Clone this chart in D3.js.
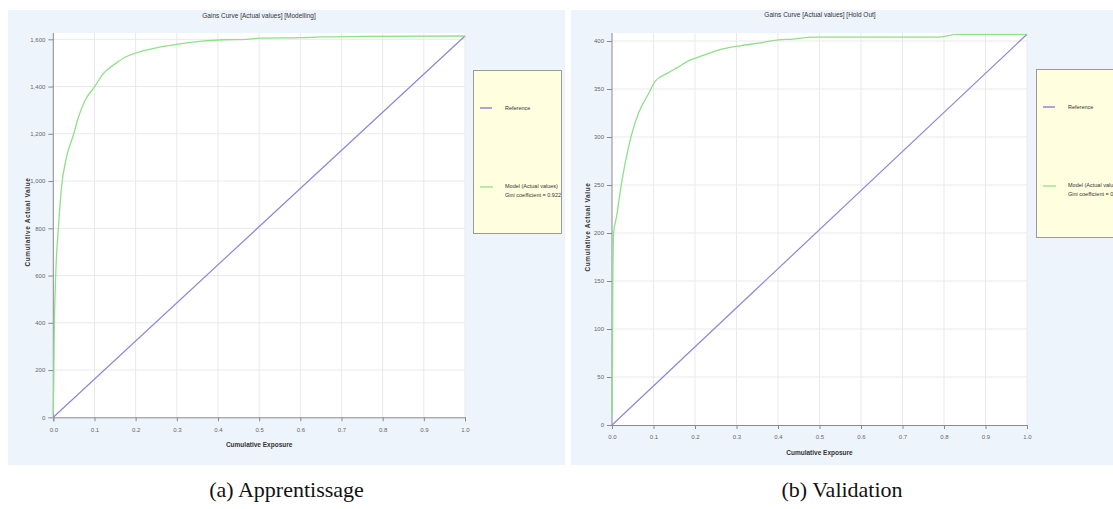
<!DOCTYPE html>
<html>
<head>
<meta charset="utf-8">
<script src="https://cdn.jsdelivr.net/npm/d3@7/dist/d3.min.js"></script>
<style>
  html, body { margin: 0; padding: 0; background: #ffffff; }
  svg { display: block; }
</style>
</head>
<body>
<svg id="chart" width="1113" height="509"></svg>
<script>
// Shared x ticks (cumulative exposure share)
const exposureTicks = [0, 0.1, 0.2, 0.3, 0.4, 0.5, 0.6, 0.7, 0.8, 0.9, 1.0];
const exposureTickLabels = ["0.0", "0.1", "0.2", "0.3", "0.4", "0.5", "0.6", "0.7", "0.8", "0.9", "1.0"];

// Modelling (training) sample
const trainYTicks = [0, 200, 400, 600, 800, 1000, 1200, 1400, 1600];
const trainExposure = [0, 0.001, 0.0024, 0.0057, 0.012, 0.020, 0.032, 0.049, 0.061, 0.077, 0.0995, 0.121, 0.150, 0.174, 0.198, 0.255, 0.303, 0.36, 0.42, 0.47, 0.50, 0.60, 0.65, 0.75, 1.0];
const trainGains = [15, 150, 369, 594, 792, 975, 1100, 1196, 1270, 1341, 1397, 1454, 1496, 1524, 1541, 1566, 1580, 1592, 1598, 1600, 1605, 1607, 1610, 1612, 1614];
const trainRefExposure = [0, 1];
const trainRefGains = [0, 1614];

// Hold-out (validation) sample
const holdYTicks = [0, 50, 100, 150, 200, 250, 300, 350, 400];
const holdExposure = [0, 0.001, 0.002, 0.004, 0.011, 0.023, 0.039, 0.064, 0.088, 0.104, 0.132, 0.156, 0.188, 0.22, 0.26, 0.308, 0.357, 0.397, 0.437, 0.485, 0.79, 0.83, 1.0];
const holdGains = [12, 60, 150, 200, 217, 252, 288, 325, 345, 358, 366, 372, 380, 385, 391, 395, 398, 401, 402, 404, 404, 407, 407];
const holdRefExposure = [0, 1];
const holdRefGains = [0, 407];

const svg = d3.select("#chart");
const uiFont = "Liberation Sans, Arial, sans-serif";

function drawPanel(p) {
  const g = svg.append("g");

  // panel background
  g.append("rect")
    .attr("x", p.panel[0]).attr("y", p.panel[1])
    .attr("width", p.panel[2]).attr("height", p.panel[3])
    .attr("fill", "#eef4fc");

  const x = d3.scaleLinear().domain([0, 1]).range(p.xRange);
  const y = d3.scaleLinear().domain([0, p.yTicks[p.yTicks.length - 1]]).range(p.yRange);

  // white plotting area
  g.append("rect")
    .attr("x", x(0)).attr("y", p.plotTop)
    .attr("width", x(1) - x(0)).attr("height", y(0) - p.plotTop)
    .attr("fill", "#ffffff");

  // grid
  g.append("g").selectAll("line").data(exposureTicks.slice(1)).join("line")
    .attr("x1", d => x(d)).attr("x2", d => x(d))
    .attr("y1", p.plotTop).attr("y2", y(0))
    .attr("stroke", "#e9e9e9").attr("stroke-width", 1);
  g.append("g").selectAll("line").data(p.yTicks.slice(1)).join("line")
    .attr("x1", x(0)).attr("x2", x(1))
    .attr("y1", d => y(d)).attr("y2", d => y(d))
    .attr("stroke", "#e9e9e9").attr("stroke-width", 1);

  // axes
  const xAxis = d3.axisBottom(x).tickValues(exposureTicks)
    .tickFormat((d, i) => exposureTickLabels[i]).tickSize(4).tickPadding(6);
  const gx = g.append("g").attr("transform", `translate(0,${y(0)})`).call(xAxis);
  gx.select(".domain").attr("stroke", "#8a8a8a");
  gx.selectAll(".tick line").attr("stroke", "#8a8a8a");
  gx.selectAll("text").attr("font-family", uiFont).attr("font-size", 6).attr("fill", "#666");

  const yAxis = d3.axisLeft(y).tickValues(p.yTicks).tickSize(5).tickPadding(3);
  const gy = g.append("g").attr("transform", `translate(${x(0)},0)`).call(yAxis);
  gy.select(".domain").attr("d", `M0,${p.plotTop}V${y(0)}`).attr("stroke", "#8a8a8a");
  gy.selectAll(".tick line").attr("stroke", "#8a8a8a");
  gy.selectAll("text").attr("font-family", uiFont).attr("font-size", 6).attr("fill", "#666");

  // curves
  const line = d3.line().x(d => x(d[0])).y(d => y(d[1])).curve(d3.curveMonotoneX);
  g.append("path")
    .datum(p.refExposure.map((e, i) => [e, p.refGains[i]]))
    .attr("d", line).attr("fill", "none")
    .attr("stroke", "#8c86d8").attr("stroke-width", 1.2);
  g.append("path")
    .datum(p.exposure.map((e, i) => [e, p.gains[i]]))
    .attr("d", line).attr("fill", "none")
    .attr("stroke", "#8ee08a").attr("stroke-width", 1.3);

  // titles
  g.append("text").attr("x", p.titlePos[0]).attr("y", p.titlePos[1])
    .attr("text-anchor", "middle").attr("font-family", uiFont)
    .attr("font-size", 6.5).attr("fill", "#333").text(p.title);
  g.append("text").attr("x", (x(0) + x(1)) / 2).attr("y", p.xTitleY)
    .attr("text-anchor", "middle").attr("font-family", uiFont)
    .attr("font-size", 6.5).attr("fill", "#333").attr("font-weight", "bold")
    .text("Cumulative Exposure");
  g.append("text")
    .attr("transform", `translate(${p.yTitlePos[0]},${p.yTitlePos[1]}) rotate(-90)`)
    .attr("text-anchor", "middle").attr("font-family", uiFont)
    .attr("font-size", 6.5).attr("fill", "#333").attr("font-weight", "bold")
    .attr("letter-spacing", 0.6)
    .text("Cumulative Actual Value");

  // legend
  const lg = g.append("g");
  lg.append("rect")
    .attr("x", p.legend[0] + 0.5).attr("y", p.legend[1] + 0.5)
    .attr("width", p.legend[2]).attr("height", p.legend[3])
    .attr("fill", "#ffffe0").attr("stroke", "#9a9a9a").attr("stroke-width", 1);
  const lx = p.legend[0];
  lg.append("line").attr("x1", lx + 7).attr("x2", lx + 19)
    .attr("y1", p.legend[1] + 38).attr("y2", p.legend[1] + 38)
    .attr("stroke", "#7e78c8").attr("stroke-width", 1.3);
  lg.append("text").attr("x", lx + 32).attr("y", p.legend[1] + 40)
    .attr("font-family", uiFont).attr("font-size", 5.5).attr("fill", "#333")
    .text("Reference");
  lg.append("line").attr("x1", lx + 7).attr("x2", lx + 20)
    .attr("y1", p.legend[1] + 117).attr("y2", p.legend[1] + 117)
    .attr("stroke", "#8ee08a").attr("stroke-width", 1.3);
  lg.append("text").attr("x", lx + 32).attr("y", p.legend[1] + 118)
    .attr("font-family", uiFont).attr("font-size", 5.5).attr("fill", "#333")
    .text("Model (Actual values)");
  lg.append("text").attr("x", lx + 32).attr("y", p.legend[1] + 127)
    .attr("font-family", uiFont).attr("font-size", 5.5).attr("fill", "#333")
    .text(p.giniText);

  // caption below the panel
  svg.append("text").attr("x", p.panel[0] + p.panel[2] / 2).attr("y", 497)
    .attr("text-anchor", "middle")
    .attr("font-family", "Liberation Serif, Times New Roman, serif")
    .attr("font-size", 22).attr("fill", "#111")
    .text(p.caption);
}

drawPanel({
  panel: [8, 10, 557, 455],
  xRange: [53.3, 465],
  yRange: [417.3, 39.3],
  plotTop: 33,
  yTicks: trainYTicks,
  exposure: trainExposure, gains: trainGains,
  refExposure: trainRefExposure, refGains: trainRefGains,
  title: "Gains Curve [Actual values] [Modelling]",
  titlePos: [259, 18],
  xTitleY: 447,
  yTitlePos: [30, 222],
  legend: [473, 70, 88, 163],
  giniText: "Gini coefficient = 0.922",
  caption: "(a) Apprentissage"
});

drawPanel({
  panel: [571, 10, 542, 455],
  xRange: [612, 1027],
  yRange: [425, 41],
  plotTop: 33,
  yTicks: holdYTicks,
  exposure: holdExposure, gains: holdGains,
  refExposure: holdRefExposure, refGains: holdRefGains,
  title: "Gains Curve [Actual values] [Hold Out]",
  titlePos: [820, 17],
  xTitleY: 455,
  yTitlePos: [590, 227],
  legend: [1036, 69, 90, 168],
  giniText: "Gini coefficient = 0.890",
  caption: "(b) Validation"
});
</script>
</body>
</html>
